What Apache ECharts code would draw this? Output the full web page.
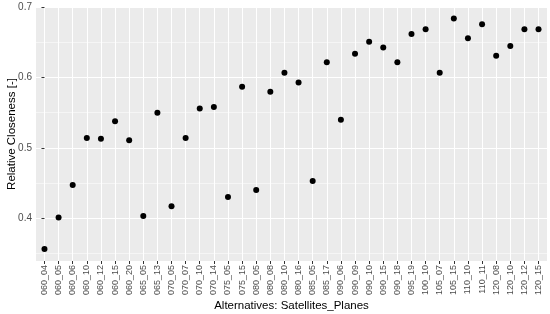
<!DOCTYPE html>
<html><head><meta charset="utf-8">
<script src="https://cdn.jsdelivr.net/npm/echarts@6/dist/echarts.min.js"></script>
<style>html,body{margin:0;padding:0;background:#fff}#c{width:550px;height:314px}</style>
</head><body><div id="c"></div>
<script>
const categories = ["060_04","060_05","060_06","060_10","060_12","060_15","060_20","065_05","065_13","070_05","070_07","070_10","070_14","075_05","075_15","080_05","080_08","080_10","080_16","085_05","085_17","090_06","090_09","090_10","090_15","090_18","095_19","100_10","105_07","105_15","110_10","110_11","120_08","120_10","120_12","120_15"];
const closeness = [0.356,0.401,0.447,0.514,0.513,0.538,0.511,0.403,0.550,0.417,0.514,0.556,0.558,0.430,0.587,0.440,0.580,0.607,0.593,0.453,0.622,0.540,0.634,0.651,0.643,0.622,0.662,0.669,0.607,0.684,0.656,0.676,0.631,0.645,0.669,0.669];
const yMajor = [0.4,0.5,0.6,0.7];
const yMinor = [0.35,0.45,0.55,0.65];

const idx = categories.map((_, i) => i);
const chart = echarts.init(document.getElementById('c'), null, {renderer:'canvas'});
const font = 'Liberation Sans, Arial, sans-serif';
chart.setOption({
  animation: false,
  grid: {left: 36, right: 3, top: 7, bottom: 53, show: true, backgroundColor: '#EBEBEB', borderWidth: 0,
    containLabel: false, outerBoundsMode: 'none'},
  xAxis: {
    type: 'value', min: -0.6, max: categories.length - 0.4,
    name: 'Alternatives: Satellites_Planes', nameLocation: 'middle', nameGap: 39, nameMoveOverlap: false,
    nameTextStyle: {color: '#000', fontSize: 11.5, fontFamily: font},
    axisLine: {show: false},
    axisTick: {show: true, length: 3, lineStyle: {color: '#333', width: 1}, customValues: idx},
    axisLabel: {show: true, rotate: 90, color: '#4D4D4D', fontSize: 9, fontFamily: font, margin: 4,
      customValues: idx, formatter: v => categories[Math.round(v)]},
    splitLine: {show: true, lineStyle: {color: '#fff', width: 1}}
  },
  yAxis: [{
    type: 'value', min: 0.339, max: 0.7005,
    name: 'Relative Closeness [-]', nameLocation: 'middle', nameGap: 18, nameMoveOverlap: false,
    nameTextStyle: {color: '#000', fontSize: 11.5, fontFamily: font},
    axisLine: {show: false},
    axisTick: {show: true, length: 3, lineStyle: {color: '#333', width: 1}, customValues: yMajor},
    axisLabel: {show: true, color: '#4D4D4D', fontSize: 10, fontFamily: font, margin: 4,
      customValues: yMajor, formatter: v => v.toFixed(1)},
    splitLine: {show: true, lineStyle: {color: '#fff', width: 1.1}}
  }, {
    type: 'value', min: 0.339, max: 0.7005, position: 'left',
    axisLine: {show: false}, axisTick: {show: false, customValues: yMinor},
    axisLabel: {show: false, customValues: yMinor},
    splitLine: {show: true, lineStyle: {color: '#fff', width: 0.5}}
  }],
  series: [{
    type: 'scatter', symbol: 'circle', symbolSize: 6,
    itemStyle: {color: '#000', opacity: 1},
    data: idx.map(i => [i, closeness[i]])
  }]
});
</script></body></html>
